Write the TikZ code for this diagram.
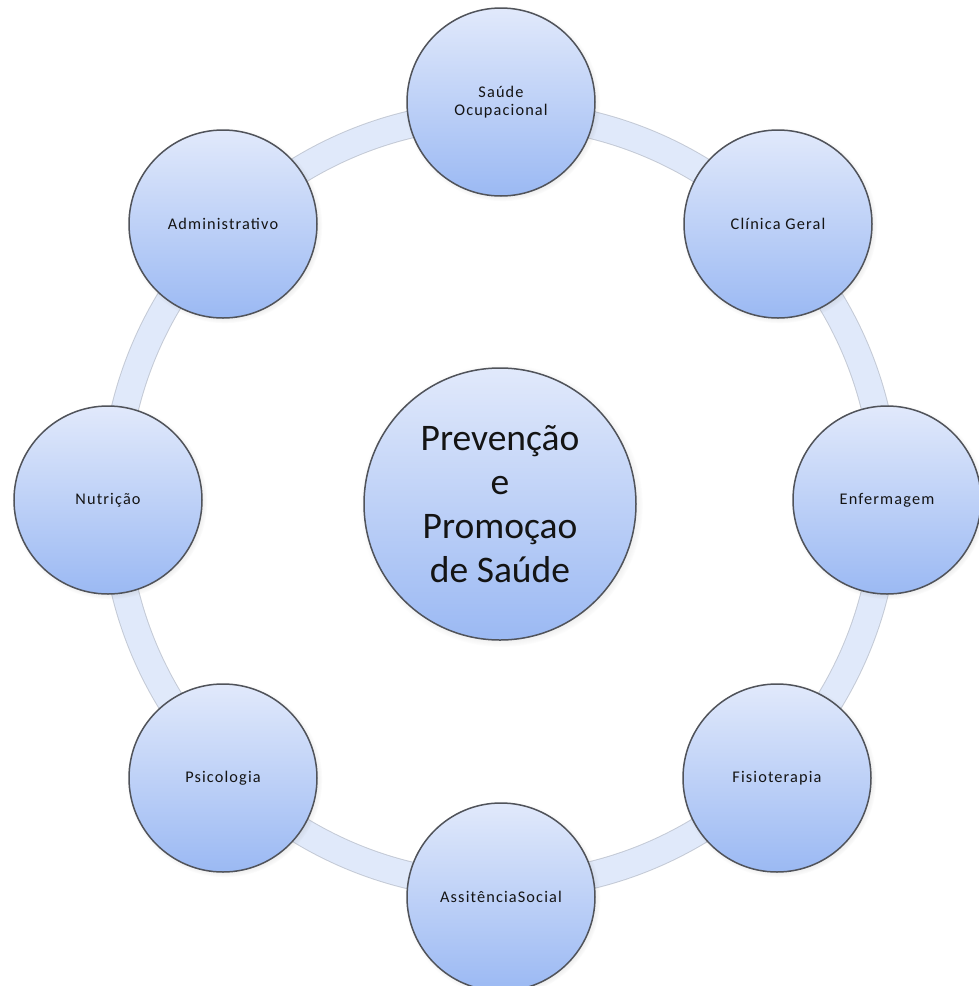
\documentclass[tikz,border=0pt]{standalone}
\usepackage{fontspec}
\setmainfont{Carlito}
\newfontfamily\lblfont[LetterSpace=7]{Carlito}
\usetikzlibrary{shadows}
\definecolor{bubtop}{RGB}{225,233,251}
\definecolor{bubbot}{RGB}{155,185,243}
\definecolor{bandfill}{RGB}{224,233,250}
\definecolor{bandedge}{RGB}{196,202,214}
\definecolor{rim}{RGB}{80,83,90}
\tikzset{
  bubble/.style={circle, draw=rim, line width=1.5pt, top color=bubtop, bottom color=bubbot,
    minimum size=188pt, inner sep=0pt, align=center,
    font=\lblfont\fontsize{16.3}{18}\selectfont, text=black!92,
    circular drop shadow={shadow scale=1.04, opacity=0.35}},
  hub/.style={bubble, minimum size=272pt, font=\fontsize{37.5}{44}\selectfont},
  bandout/.style={draw=bandedge, line width=28pt},
  bandin/.style={draw=bandfill, line width=26pt}
}
\begin{document}
\begin{tikzpicture}[x=1pt,y=-1pt]
\useasboundingbox (0,0) rectangle (978,986);
\coordinate (ringc) at (500,500);
\draw[bandout] (ringc) circle (386);
\draw[bandin] (ringc) circle (386);
\node[hub] (hubn) at (500,504) {Prevenção\\e\\Promoçao\\de Saúde};
\node[bubble] (ocup) at (501,102) {Saúde\\Ocupacional};
\node[bubble] (clin) at (778,224) {Clínica Geral};
\node[bubble] (enf) at (887,500) {Enfermagem};
\node[bubble] (fis) at (777,778) {Fisioterapia};
\node[bubble] (soc) at (501,897) {AssitênciaSocial};
\node[bubble] (psi) at (223,778) {Psicologia};
\node[bubble] (nut) at (108,500) {Nutrição};
\node[bubble] (adm) at (223,224) {Administrativo};
\end{tikzpicture}
\end{document}
